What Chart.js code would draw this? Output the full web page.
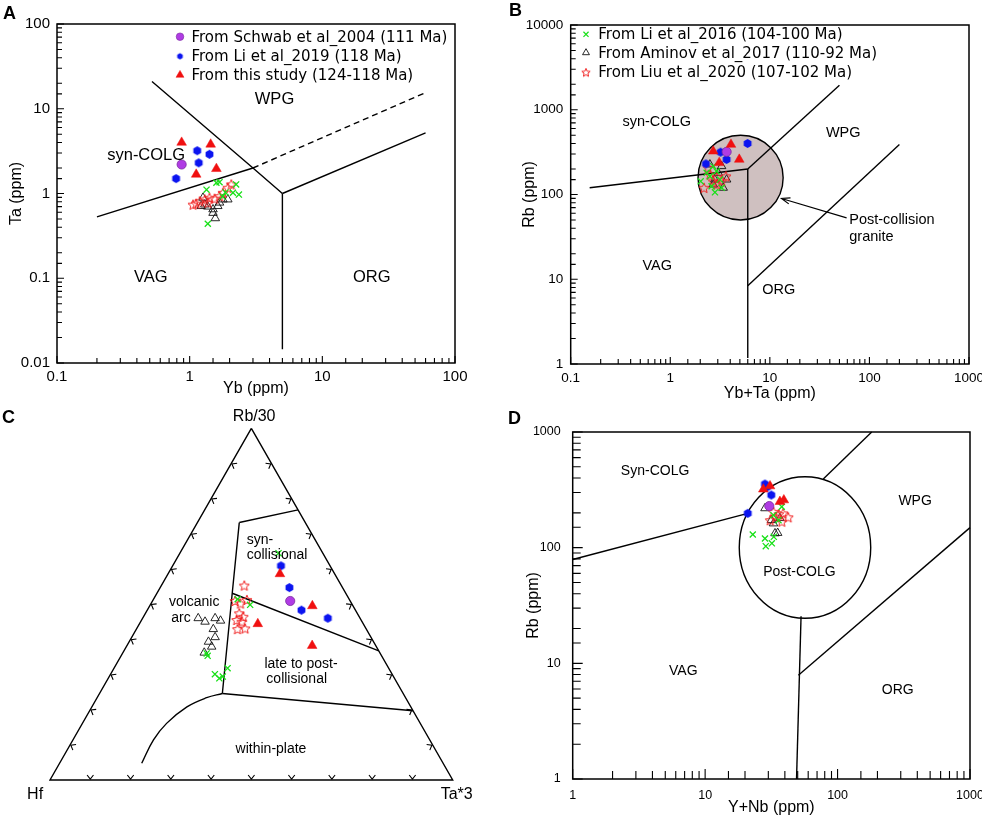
<!DOCTYPE html>
<html>
<head>
<meta charset="utf-8">
<title>Granite discrimination diagrams</title>
<script src="https://cdn.jsdelivr.net/npm/chart.js@4.4.1/dist/chart.umd.min.js"></script>
<style>
  html, body { margin: 0; padding: 0; background: #fff; }
  body { width: 982px; height: 818px; position: relative; overflow: hidden; font-family: "Liberation Sans", Arial, sans-serif; }
  canvas { position: absolute; }
  .tag { position: absolute; font-weight: bold; font-size: 18px; line-height: 18px; color: #000; }
</style>
</head>
<body>
<canvas id="chartA" width="480" height="400" style="left:0;top:0"></canvas>
<canvas id="chartB" width="502" height="410" style="left:480px;top:0"></canvas>
<canvas id="chartC" width="480" height="418" style="left:0;top:400px"></canvas>
<canvas id="chartD" width="502" height="418" style="left:480px;top:400px"></canvas>
<div class="tag" style="left:3px;top:4px">A</div>
<div class="tag" style="left:509px;top:1px">B</div>
<div class="tag" style="left:2px;top:408px">C</div>
<div class="tag" style="left:508px;top:409px">D</div>
<script>
Chart.defaults.font.family = '"Liberation Sans", Arial, sans-serif';
Chart.defaults.color = '#000';

// Panel A : Yb (ppm) vs Ta (ppm) -------------------------------
const aSchwab = [[0.87, 2.2]];
const aLi2019 = [[1.14, 3.2], [1.41, 2.9], [1.17, 2.3], [0.79, 1.5]];
const aStudy = [[0.87, 4.0], [1.44, 3.8], [1.12, 1.68], [1.59, 1.96]];
const aLi2016 = [[1.34, 1.11], [1.59, 1.34], [1.68, 1.36], [2.24, 1.28], [2.35, 0.97], [1.37, 0.44], [2.12, 1.02], [1.86, 1.03], [1.77, 0.92]];
const aAminov = [[1.22, 0.71], [1.30, 0.74], [1.37, 0.70], [1.50, 0.65], [1.56, 0.51], [1.68, 0.78], [1.78, 0.85], [1.94, 0.85], [1.26, 0.89], [1.63, 0.71], [1.50, 0.59]];
const aLiu2020 = [[1.12, 0.76], [1.19, 0.81], [1.30, 0.85], [1.41, 0.89], [1.54, 0.87], [1.68, 0.93], [1.78, 1.02], [1.94, 1.17], [2.06, 1.28], [1.06, 0.74], [1.37, 0.78]];
const aWpgLine = [[0.52, 21], [3, 2], [5, 1]];
const aVagLine = [[0.2, 0.53], [3, 2]];
const aDashLine = [[3, 2], [60, 15.5]];
const aOrgLine = [[5, 1], [60, 5.2]];
const aVertLine = [[5, 1], [5, 0.0145]];
const aFields = [['WPG', 4.36, 12.7], ['syn-COLG', 0.47, 2.84], ['VAG', 0.51, 0.103], ['ORG', 23.6, 0.103]];

// Panel B : Yb+Ta (ppm) vs Rb (ppm) ----------------------------
const bSchwab = [[3.68, 319]];
const bLi2019 = [[5.98, 400], [3.2, 316], [3.68, 259], [2.28, 230]];
const bStudy = [[2.7, 324], [4.07, 389], [4.93, 259], [3.1, 237]];
const bLi2016 = [[2.02, 143], [2.81, 106], [3.28, 120], [2.7, 216], [2.92, 188], [2.5, 164], [3.15, 150], [2.6, 125], [2.32, 180]];
const bAminov = [[2.5, 226], [3.28, 216], [3.68, 150], [2.7, 131], [3.03, 180], [3.4, 120], [2.8, 150]];
const bLiu2020 = [[2.18, 120], [2.5, 172], [2.7, 143], [3.62, 164], [3.28, 143], [2.92, 131], [2.4, 207], [2.95, 160]];
const bVagLine = [[0.155, 120], [6, 200]];
const bVertLine = [[6, 200], [6, 1.18]];
const bWpgLine = [[6, 200], [50, 1950]];
const bOrgLine = [[6, 8.4], [200, 390]];
const bPostX = [1.9, 13.6];
const bPostY = [50, 500];
const bArrow = [[59, 53], [13.1, 89.7]];
const bFields = [['syn-COLG', 0.73, 721], ['WPG', 54.6, 535], ['VAG', 0.74, 14.3], ['ORG', 12.3, 7.37],
  ['Post-collision', 62.7, 49.7, 'left'], ['granite', 62.7, 31.3, 'left']];

// Panel C : Hf - Rb/30 - Ta*3, as [Rb/30, Hf, Ta*3] -------------
const cSchwab = [[50.9, 14.9, 34.2]];
const cLi2019 = [[60.9, 12.2, 26.9], [54.7, 13.2, 32.1], [48.3, 13.4, 38.3], [46.0, 8.0, 46.0]];
const cStudy = [[58.6, 13.6, 27.8], [49.5, 10.1, 40.4], [44.4, 26.2, 29.4], [38.2, 15.8, 46.0]];
const cLi2016 = [[64.5, 11.0, 24.5], [51.4, 27.7, 20.9], [49.8, 25.4, 24.8], [36.0, 43.1, 20.9], [35.3, 43.2, 21.5], [30.1, 44.0, 25.9], [28.9, 43.5, 27.6], [31.8, 40.0, 28.2], [29.4, 42.4, 28.2]];
const cAminov = [[46.0, 40.2, 13.8], [45.0, 39.0, 16.0], [46.0, 36.0, 18.0], [45.3, 35.0, 19.7], [42.9, 38.0, 19.1], [40.6, 38.7, 20.7], [39.3, 41.0, 19.7], [37.9, 40.9, 21.2], [36.2, 43.6, 20.2]];
const cLiu2020 = [[55.3, 24.1, 20.6], [50.9, 28.6, 20.5], [50.2, 27.6, 22.2], [51.2, 25.5, 23.3], [47.4, 29.3, 23.3], [46.4, 28.8, 24.8], [45.5, 30.9, 23.6], [43.1, 30.0, 26.9], [42.9, 32.0, 25.1], [45.0, 29.9, 25.1]];
const cFrame = [[100, 0, 0], [0, 100, 0], [0, 0, 100], [100, 0, 0]];
const cSynTop = [[73.2, 16.4, 10.4], [76.8, 0, 23.2]];
const cSynLeft = [[73.2, 16.4, 10.4], [53.1, 28.2, 18.7], [24.6, 44.9, 30.5]];
const cDivider = [[53.1, 28.2, 18.7], [36.7, 0, 63.3]];
const cWplTop = [[24.6, 44.9, 30.5], [19.7, 0, 80.3]];
const cWplCurve = [[24.6, 44.9, 30.5], [23.4, 49.4, 27.2], [20.8, 55.6, 23.6], [16.1, 63.0, 20.9], [11.4, 68.6, 20.0], [4.75, 74.85, 20.4]];
const cFields = [['Rb/30', 0.507, 0.895, 'center', 16], ['Hf', -0.037, -0.035, 'center', 16], ['Ta*3', 1.01, -0.035, 'center', 16],
  ['syn-', 0.4885, 0.591, 'left', 14], ['collisional', 0.4885, 0.553, 'left', 14],
  ['volcanic', 0.358, 0.4375, 'center', 14], ['arc', 0.3253, 0.3996, 'center', 14],
  ['late to post-', 0.6233, 0.2856, 'center', 14], ['collisional', 0.6126, 0.2479, 'center', 14],
  ['within-plate', 0.5488, 0.0763, 'center', 14]];

// Panel D : Y+Nb (ppm) vs Rb (ppm) -----------------------------
const dSchwab = [[30.5, 229]];
const dLi2019 = [[28.3, 355], [21, 198], [31.6, 285], [29.5, 335]];
const dStudy = [[27.5, 320], [30.9, 341], [36.7, 250], [39.3, 258]];
const dLi2016 = [[22.9, 130], [28.3, 120], [28.7, 103], [31.9, 109], [33, 124], [32.8, 191], [37.9, 226], [35.8, 173]];
const dAminov = [[28.3, 219], [32.8, 162], [33.7, 133], [35.3, 134], [31.6, 173], [36.7, 180]];
const dLiu2020 = [[34.3, 185], [42.4, 183], [37.9, 168], [32.8, 204], [36, 195], [38.8, 198], [31, 173]];
const dVagLine = [[1, 79], [21, 198]];
const dTopLine = [[78, 392], [181, 1000]];
const dVertLine = [[53, 25.5], [49, 1]];
const dOrgLine = [[50.6, 7.9], [1000, 149]];
const dPostX = [18.1, 178];
const dPostY = [24.5, 410];
const dFields = [['Syn-COLG', 4.19, 463], ['WPG', 385, 253], ['Post-COLG', 51.5, 62], ['VAG', 6.84, 8.63], ['ORG', 285, 5.88]];

// markers --------------------------------------------------------
function hexMark(r, color) {
  const c = document.createElement('canvas');
  const s = Math.ceil(r * 2 + 2);
  c.width = c.height = s;
  const g = c.getContext('2d');
  g.beginPath();
  for (let i = 0; i < 6; i++) {
    const t = Math.PI / 3 * i + Math.PI / 6;
    g.lineTo(s / 2 + r * Math.cos(t), s / 2 + r * Math.sin(t));
  }
  g.closePath();
  g.fillStyle = color;
  g.fill();
  return c;
}
function starMark(r, color) {
  const c = document.createElement('canvas');
  const s = Math.ceil(r * 2 + 3);
  c.width = c.height = s;
  const g = c.getContext('2d');
  g.beginPath();
  for (let i = 0; i < 10; i++) {
    const rr = i % 2 ? r * 0.45 : r;
    const t = -Math.PI / 2 + Math.PI / 5 * i;
    g.lineTo(s / 2 + rr * Math.cos(t), s / 2 + 0.5 + rr * Math.sin(t));
  }
  g.closePath();
  g.strokeStyle = color;
  g.lineWidth = 1;
  g.stroke();
  return c;
}

const MARKS = {
  schwab: { pointStyle: 'circle', radius: 4.6, backgroundColor: '#b03ce4', borderColor: '#7a2aa0', borderWidth: 0.8 },
  li2019: { pointStyle: hexMark(4.5, '#0b14f0'), radius: 4.5 },
  study: { pointStyle: 'triangle', radius: 5.6, backgroundColor: '#f01010', borderColor: '#f01010', borderWidth: 0.5 },
  li2016: { pointStyle: 'crossRot', radius: 4.3, backgroundColor: '#18e018', borderColor: '#18e018', borderWidth: 1.3 },
  aminov: { pointStyle: 'triangle', radius: 4.9, backgroundColor: 'rgba(0,0,0,0)', borderColor: '#111', borderWidth: 0.9 },
  liu2020: { pointStyle: starMark(5.3, '#f02020'), radius: 5 }
};
const KEYMARKS = {
  schwab: { pointStyle: 'circle', radius: 3.8, backgroundColor: '#b03ce4', borderColor: '#7a2aa0', borderWidth: 0.6 },
  li2019: { pointStyle: hexMark(3.2, '#0b14f0'), radius: 3.2 },
  study: { pointStyle: 'triangle', radius: 4.6, backgroundColor: '#f01010', borderColor: '#f01010', borderWidth: 0.5 },
  li2016: { pointStyle: 'crossRot', radius: 3.6, backgroundColor: '#18e018', borderColor: '#18e018', borderWidth: 1.2 },
  aminov: { pointStyle: 'triangle', radius: 4, backgroundColor: 'rgba(0,0,0,0)', borderColor: '#111', borderWidth: 0.9 },
  liu2020: { pointStyle: starMark(4.4, '#f02020'), radius: 4 }
};

function drawMark(ctx, m, x, y) {
  const s = m.pointStyle, r = m.radius;
  if (typeof s !== 'string') { ctx.drawImage(s, x - s.width / 2, y - s.height / 2); return; }
  ctx.save();
  ctx.fillStyle = m.backgroundColor;
  ctx.strokeStyle = m.borderColor;
  ctx.lineWidth = m.borderWidth;
  ctx.beginPath();
  if (s === 'circle') ctx.arc(x, y, r, 0, Math.PI * 2);
  else if (s === 'triangle') {
    for (let i = 0; i < 3; i++) {
      const t = i * 2 * Math.PI / 3;
      ctx.lineTo(x + Math.sin(t) * r, y - Math.cos(t) * r);
    }
    ctx.closePath();
  } else {
    const d = r * 0.7071;
    ctx.moveTo(x - d, y - d); ctx.lineTo(x + d, y + d);
    ctx.moveTo(x - d, y + d); ctx.lineTo(x + d, y - d);
  }
  if (s !== 'crossRot') ctx.fill();
  if (m.borderWidth) ctx.stroke();
  ctx.restore();
}

// helpers ---------------------------------------------------------
const pts = arr => arr.map(([x, y]) => ({ x, y }));
const SQ3 = Math.sqrt(3) / 2;
function tern(arr) {
  return arr.map(([rb, hf, ta]) => {
    const s = rb + hf + ta, a = rb / s, b = ta / s;
    return [b + a / 2, a * SQ3];
  });
}
function series(key, arr, order) {
  const m = MARKS[key];
  return {
    label: key, data: pts(arr), order, showLine: false,
    pointStyle: m.pointStyle, pointRadius: m.radius, pointHoverRadius: m.radius,
    pointBackgroundColor: m.backgroundColor, pointBorderColor: m.borderColor,
    pointBorderWidth: m.borderWidth || 0
  };
}
function boundary(arr, dash, tension) {
  return {
    data: pts(arr), showLine: true, pointRadius: 0, pointHoverRadius: 0,
    borderColor: '#000', borderWidth: 1.4, borderDash: dash || [],
    tension: tension || 0, fill: false, clip: false, order: 20
  };
}
function isDecade(v) {
  const e = Math.log10(v);
  return Math.abs(e - Math.round(e)) < 1e-6;
}
function decadeLabel(v) {
  return isDecade(v) ? String(+Number(v).toPrecision(1)) : '';
}

function logAxis(o) {
  return {
    type: 'logarithmic', min: o.min, max: o.max, position: o.position,
    grid: { display: false, drawTicks: false },
    border: { display: false },
    ticks: { autoSkip: false, maxRotation: 0, minRotation: 0, padding: o.pad, font: { size: o.size }, callback: decadeLabel },
    title: { display: true, text: o.title, font: { size: 16 }, padding: o.titlePad },
    afterFit: s => {
      if (o.position === 'bottom') s.height = o.thick; else s.width = o.thick;
      s.paddingLeft = 0; s.paddingRight = 0; s.paddingTop = 0; s.paddingBottom = 0;
    }
  };
}

function decorPlugin(o) {
  return {
    id: 'decor',
    beforeDatasetsDraw(chart) {
      if (!o.ellX) return;
      const { ctx, scales: { x, y } } = chart;
      const x1 = x.getPixelForValue(o.ellX[0]), x2 = x.getPixelForValue(o.ellX[1]);
      const y1 = y.getPixelForValue(o.ellY[0]), y2 = y.getPixelForValue(o.ellY[1]);
      ctx.save();
      ctx.beginPath();
      ctx.ellipse((x1 + x2) / 2, (y1 + y2) / 2, Math.abs(x2 - x1) / 2, Math.abs(y2 - y1) / 2, 0, 0, Math.PI * 2);
      ctx.fillStyle = o.ellFill;
      ctx.fill();
      ctx.lineWidth = 1.4;
      ctx.strokeStyle = '#000';
      ctx.stroke();
      ctx.restore();
    },
    afterDatasetsDraw(chart) {
      const { ctx, scales: { x, y } } = chart;
      ctx.save();
      ctx.fillStyle = '#000';
      ctx.textBaseline = 'middle';
      for (const [text, vx, vy, align, size] of o.fields) {
        ctx.font = (size || o.fieldSize) + 'px "Liberation Sans", Arial, sans-serif';
        ctx.textAlign = align || 'center';
        ctx.fillText(text, x.getPixelForValue(vx), y.getPixelForValue(vy));
      }
      if (o.arrow) {
        const [p0, p1] = o.arrow;
        const ax = x.getPixelForValue(p0[0]), ay = y.getPixelForValue(p0[1]);
        const bx = x.getPixelForValue(p1[0]), by = y.getPixelForValue(p1[1]);
        const t = Math.atan2(by - ay, bx - ax);
        ctx.strokeStyle = '#000';
        ctx.lineWidth = 1.2;
        ctx.beginPath();
        ctx.moveTo(ax, ay); ctx.lineTo(bx, by);
        ctx.moveTo(bx - 9 * Math.cos(t - 0.35), by - 9 * Math.sin(t - 0.35));
        ctx.lineTo(bx, by);
        ctx.lineTo(bx - 9 * Math.cos(t + 0.35), by - 9 * Math.sin(t + 0.35));
        ctx.stroke();
      }
      ctx.restore();
    },
    afterDraw(chart) {
      const { ctx, chartArea: a, scales: { x, y } } = chart;
      ctx.save();
      if (o.frame) {
        ctx.strokeStyle = '#000';
        ctx.lineWidth = 1.5;
        ctx.strokeRect(a.left, a.top, a.right - a.left, a.bottom - a.top);
        ctx.lineWidth = 1.1;
        ctx.beginPath();
        for (const t of x.ticks) {
          const px = x.getPixelForValue(t.value);
          const len = isDecade(t.value) ? o.major : o.minor;
          ctx.moveTo(px, a.bottom); ctx.lineTo(px, a.bottom - len);
        }
        for (const t of y.ticks) {
          const py = y.getPixelForValue(t.value);
          const len = isDecade(t.value) ? o.major : o.minor;
          ctx.moveTo(a.left, py); ctx.lineTo(a.left + len, py);
        }
        ctx.stroke();
      }
      if (o.ternTicks) {
        const corner = tern([[100, 0, 0], [0, 100, 0], [0, 0, 100]]).map(([vx, vy]) => [x.getPixelForValue(vx), y.getPixelForValue(vy)]);
        const cx = (corner[0][0] + corner[1][0] + corner[2][0]) / 3, cy = (corner[0][1] + corner[1][1] + corner[2][1]) / 3;
        ctx.strokeStyle = '#000';
        ctx.lineWidth = 1.1;
        ctx.beginPath();
        for (const [i, j] of [[1, 0], [0, 2], [1, 2]]) {
          const [x1, y1] = corner[i], [x2, y2] = corner[j];
          const L = Math.hypot(x2 - x1, y2 - y1);
          const tx = (x2 - x1) / L, ty = (y2 - y1) / L;
          let nx = -ty, ny = tx;
          if ((cx - x1) * nx + (cy - y1) * ny < 0) { nx = -nx; ny = -ny; }
          for (let k = 1; k < 10; k++) {
            const px = x1 + (x2 - x1) * k / 10, py = y1 + (y2 - y1) * k / 10;
            ctx.moveTo(px + nx * 5 + tx * 3.2, py + ny * 5 + ty * 3.2);
            ctx.lineTo(px + nx * 0.8, py + ny * 0.8);
            ctx.lineTo(px + nx * 5 - tx * 3.2, py + ny * 5 - ty * 3.2);
          }
        }
        ctx.stroke();
      }
      if (o.key) {
        ctx.font = '15px "DejaVu Sans", Verdana, sans-serif';
        ctx.textAlign = 'left';
        ctx.textBaseline = 'middle';
        ctx.fillStyle = '#000';
        o.key.items.forEach(([mk, text], i) => {
          const yy = o.key.ys[i];
          drawMark(ctx, KEYMARKS[mk], o.key.mx, yy);
          ctx.fillText(text, o.key.tx, yy + 1);
        });
      }
      ctx.restore();
    }
  };
}

function pointSets(s, li19, st, l16, am, l20) {
  return [
    series('study', st, 1), series('schwab', s, 2), series('li2019', li19, 3),
    series('li2016', l16, 4), series('liu2020', l20, 5), series('aminov', am, 6)
  ];
}

function baseOptions(padding, scales) {
  return {
    responsive: false, animation: false, events: [],
    layout: { padding },
    plugins: { legend: { display: false }, tooltip: { enabled: false } },
    scales
  };
}

// Chart A
new Chart(document.getElementById('chartA'), {
  type: 'scatter',
  data: {
    datasets: [
      boundary(aWpgLine), boundary(aVagLine), boundary(aDashLine, [6, 4]), boundary(aOrgLine), boundary(aVertLine),
      ...pointSets(aSchwab, aLi2019, aStudy, aLi2016, aAminov, aLiu2020)
    ]
  },
  options: baseOptions({ left: 0, top: 24, right: 25, bottom: 0 }, {
    x: logAxis({ min: 0.1, max: 100, position: 'bottom', pad: 5, size: 15, title: 'Yb (ppm)', titlePad: { top: 0, bottom: 2 }, thick: 37 }),
    y: logAxis({ min: 0.01, max: 100, position: 'left', pad: 7, size: 15, title: 'Ta (ppm)', titlePad: { top: 7, bottom: 0 }, thick: 57 })
  }),
  plugins: [decorPlugin({
    fields: aFields, fieldSize: 16.5, frame: true, major: 7, minor: 5,
    key: { mx: 180, tx: 191.5, ys: [36.7, 56.3, 75],
      items: [['schwab', 'From Schwab et al_2004 (111 Ma)'], ['li2019', 'From Li et al_2019 (118 Ma)'], ['study', 'From this study (124-118 Ma)']] }
  })]
});

// Chart B
new Chart(document.getElementById('chartB'), {
  type: 'scatter',
  data: {
    datasets: [
      boundary(bVagLine), boundary(bVertLine), boundary(bWpgLine), boundary(bOrgLine),
      ...pointSets(bSchwab, bLi2019, bStudy, bLi2016, bAminov, bLiu2020)
    ]
  },
  options: baseOptions({ left: 0, top: 25, right: 13, bottom: 0 }, {
    x: logAxis({ min: 0.1, max: 1000, position: 'bottom', pad: 6, size: 13.5, title: 'Yb+Ta (ppm)', titlePad: { top: 0, bottom: 7 }, thick: 46 }),
    y: logAxis({ min: 1, max: 10000, position: 'left', pad: 7.5, size: 13.5, title: 'Rb (ppm)', titlePad: { top: 40, bottom: 0 }, thick: 90.7 })
  }),
  plugins: [decorPlugin({
    fields: bFields, fieldSize: 14.5, frame: true, major: 7, minor: 5,
    ellX: bPostX, ellY: bPostY, ellFill: '#cfc0c0', arrow: bArrow,
    key: { mx: 106, tx: 118.3, ys: [34.3, 52.7, 72.3],
      items: [['li2016', 'From Li et al_2016 (104-100 Ma)'], ['aminov', 'From Aminov et al_2017 (110-92 Ma)'], ['liu2020', 'From Liu et al_2020 (107-102 Ma)']] }
  })]
});

// Chart C (ternary)
new Chart(document.getElementById('chartC'), {
  type: 'scatter',
  data: {
    datasets: [
      boundary(tern(cFrame)), boundary(tern(cSynTop)), boundary(tern(cSynLeft)), boundary(tern(cDivider)),
      boundary(tern(cWplTop)), boundary(tern(cWplCurve), null, 0.4),
      ...pointSets(tern(cSchwab), tern(cLi2019), tern(cStudy), tern(cLi2016), tern(cAminov), tern(cLiu2020))
    ]
  },
  options: baseOptions({ left: 50, top: 28.3, right: 27.3, bottom: 38 }, {
    x: { type: 'linear', min: 0, max: 1, display: false },
    y: { type: 'linear', min: 0, max: SQ3, display: false }
  }),
  plugins: [decorPlugin({ fields: cFields, fieldSize: 14, ternTicks: true })]
});

// Chart D
new Chart(document.getElementById('chartD'), {
  type: 'scatter',
  data: {
    datasets: [
      boundary(dVagLine), boundary(dTopLine), boundary(dVertLine), boundary(dOrgLine),
      ...pointSets(dSchwab, dLi2019, dStudy, dLi2016, dAminov, dLiu2020)
    ]
  },
  options: baseOptions({ left: 0, top: 32, right: 12, bottom: 0 }, {
    x: logAxis({ min: 1, max: 1000, position: 'bottom', pad: 9, size: 12.5, title: 'Y+Nb (ppm)', titlePad: { top: 0, bottom: 1 }, thick: 39 }),
    y: logAxis({ min: 1, max: 1000, position: 'left', pad: 12, size: 12.5, title: 'Rb (ppm)', titlePad: { top: 43.7, bottom: 0 }, thick: 92.7 })
  }),
  plugins: [decorPlugin({
    fields: dFields, fieldSize: 14, frame: true, major: 10, minor: 8,
    ellX: dPostX, ellY: dPostY, ellFill: '#ffffff'
  })]
});
</script>
</body>
</html>
